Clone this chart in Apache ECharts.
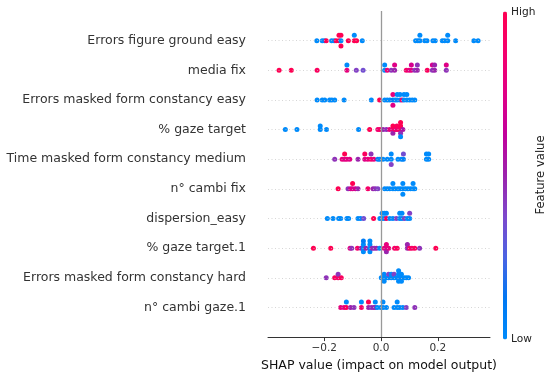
<!DOCTYPE html>
<html>
<head>
<meta charset="utf-8">
<script src="https://cdn.jsdelivr.net/npm/echarts@6/dist/echarts.min.js"></script>
<style>html,body{margin:0;padding:0;background:#fff}#c{width:550px;height:377px}</style>
</head>
<body>
<div id="c"></div>
<script>
// Feature names, top to bottom
const features = [
  "Errors figure ground easy",
  "media fix",
  "Errors masked form constancy easy",
  "% gaze target",
  "Time masked form constancy medium",
  "n° cambi fix",
  "dispersion_easy",
  "% gaze target.1",
  "Errors masked form constancy hard",
  "n° cambi gaze.1"
];
// [SHAP value, normalized feature value (0 = low, 1 = high)]
const figureGroundEasy = [
  [-0.226,0],[-0.207,0],[-0.199,0],[-0.193,1],[-0.174,0],[-0.165,0],[-0.158,1],
  [-0.148,1],[-0.148,1],[-0.141,0],[-0.141,1],[-0.141,1],
  [-0.115,1],[-0.094,1],[-0.094,0],[-0.086,1],[-0.066,0],
  [0.122,0],[0.130,0],[0.137,0],[0.137,0],[0.154,0],[0.162,0],[0.183,0],[0.191,0],
  [0.216,0],[0.224,0],[0.235,0],[0.235,0],[0.263,0],[0.327,0],[0.342,0]
];
const mediaFix = [
  [-0.359,1],[-0.316,1],[-0.225,0.95],[-0.120,0.8],[-0.120,0],[-0.087,0.4],[-0.063,0.35],
  [0.013,0],[0.013,0],[0.022,0.85],[0.036,0.45],[0.048,0.5],[0.048,0.75],
  [0.089,0.9],[0.099,0.8],[0.107,0.75],[0.107,0.7],[0.119,0.45],[0.128,0.5],[0.128,0.45],
  [0.163,0.95],[0.181,0.45],[0.181,0.7],[0.189,0.5],[0.189,0.5],[0.230,0.45],[0.230,0.75]
];
const maskedEasy = [
  [-0.225,0],[-0.207,0],[-0.198,0],[-0.181,0],[-0.173,0],[-0.163,0],[-0.130,0],[-0.034,0],
  [-0.005,1],[0.013,0],[0.022,0],[0.031,0],[0.042,0.1],[0.042,0.8],[0.042,0.75],[0.050,0],
  [0.057,0],[0.057,0],[0.067,0],[0.067,0],[0.074,0.9],[0.081,0],[0.081,0],[0.091,0],[0.091,0],
  [0.101,0],[0.110,0],[0.119,0]
];
const gazeTarget = [
  [-0.337,0],[-0.296,0],[-0.214,0],[-0.214,0],[-0.192,0],[-0.079,0],[-0.040,1],[-0.011,0.85],
  [-0.004,0.9],[0.007,0.5],[0.019,0.45],[0.030,0.8],[0.042,0.85],[0.042,1],[0.042,0.5],
  [0.050,0.9],[0.056,0.8],[0.056,0.95],[0.062,0.9],[0.069,0.9],[0.069,1],[0.069,0.45],
  [0.069,1],[0.069,0],[0.077,0.55]
];
const timeMaskedMedium = [
  [-0.163,0.45],[-0.137,0.8],[-0.128,0.75],[-0.128,1],[-0.120,0.8],[-0.110,0.75],[-0.081,0.5],
  [-0.057,0.75],[-0.057,0.95],[-0.046,0.8],[-0.035,0.9],[-0.035,0.45],[-0.025,0.8],[-0.011,0.1],
  [-0.004,0],[0.007,0],[0.022,0],[0.036,0],[0.036,0],[0.036,0.4],[0.060,0],[0.072,0],
  [0.079,0.05],[0.079,0.35],[0.160,0],[0.160,0],[0.168,0],[0.168,0]
];
const cambiFix = [
  [-0.151,1],[-0.116,0.45],[-0.107,0.7],[-0.100,0.75],[-0.100,1],[-0.090,0.7],[-0.081,0.5],
  [-0.046,0.9],[-0.028,0.5],[-0.020,0.45],[-0.011,0.4],[0.013,0],[0.022,0],[0.031,0],
  [0.042,0],[0.042,0],[0.050,0],[0.060,0],[0.068,0],[0.077,0],[0.077,0],[0.077,0],
  [0.086,0],[0.095,0],[0.104,0],[0.113,0],[0.113,0],[0.119,0]
];
const dispersionEasy = [
  [-0.189,0],[-0.169,0],[-0.149,0],[-0.142,0],[-0.120,0],[-0.114,0],[-0.081,0],[-0.072,0],
  [-0.061,0.35],[-0.026,1],[-0.004,0],[0.004,0],[0.004,0],[0.012,0],[0.012,0],[0.019,0.95],
  [0.019,0],[0.031,0],[0.042,0],[0.054,0.4],[0.066,0],[0.066,0],[0.074,0],[0.074,0],
  [0.083,0.4],[0.093,0],[0.101,0],[0.101,0.4]
];
const gazeTarget1 = [
  [-0.238,1],[-0.177,1],[-0.109,0.75],[-0.103,0.45],[-0.083,0.9],[-0.070,0.5],
  [-0.062,0],[-0.062,0],[-0.062,0],[-0.062,0.1],[-0.053,0.5],
  [-0.039,0],[-0.039,0],[-0.039,0],[-0.039,0],[-0.031,0.5],[-0.024,0.45],[-0.016,0.5],
  [-0.005,0],[0.011,0.8],[0.019,0.75],[0.019,0.8],[0.019,0.5],[0.027,0.8],[0.048,0.9],
  [0.057,0.95],[0.093,0.5],[0.093,0.5],[0.101,0.95],[0.109,0.9],[0.119,0.95],[0.136,0.45],[0.193,1]
];
const maskedHard = [
  [-0.193,0.45],[-0.163,0.95],[-0.151,0.9],[-0.151,0.45],[-0.140,0.95],
  [0.001,0],[0.011,0],[0.011,0],[0.011,0],[0.019,0],[0.027,0],[0.027,0.4],[0.036,0],[0.036,0],
  [0.046,0],[0.046,0.4],[0.054,0],[0.062,0],[0.062,0],[0.062,0],[0.062,0],
  [0.072,0],[0.072,0],[0.072,0],[0.081,0],[0.089,0],[0.097,0]
];
const cambiGaze1 = [
  [-0.142,0.8],[-0.130,0.75],[-0.122,0.95],[-0.122,0],[-0.107,0.5],[-0.095,0.45],
  [-0.069,0.9],[-0.069,0],[-0.044,0.5],[-0.044,1],[-0.034,0.45],[-0.025,0.5],
  [-0.020,0.45],[-0.020,0],[-0.013,0],[-0.001,0],[0.007,0],[0.007,0],[0.019,0],
  [0.046,0],[0.057,0],[0.057,0],[0.066,0],[0.077,0],[0.089,0.4],[0.119,0.45]
];
const rows = [figureGroundEasy, mediaFix, maskedEasy, gazeTarget, timeMaskedMedium,
              cambiFix, dispersionEasy, gazeTarget1, maskedHard, cambiGaze1];
const xTicks = [-0.2, 0.0, 0.2];
const colorStops = ['#008bfb','#0078f3','#4b63e3','#7d49cc','#9b23ad','#c2009c','#e00086','#f5006d','#ff0052'];

// SHAP-style beeswarm layering (deterministic)
function swarm(vals) {
  const N = vals.length;
  const mn = Math.min(...vals), mx = Math.max(...vals);
  const quant = vals.map(v => Math.round(100 * (v - mn) / (mx - mn + 1e-8)));
  const inds = [...Array(N).keys()].sort((a, b) => quant[a] - quant[b] || a - b);
  const ys = new Array(N).fill(0);
  let layer = 0, last = null;
  for (const i of inds) {
    if (quant[i] !== last) layer = 0;
    ys[i] = Math.ceil(layer / 2) * ((layer % 2) * 2 - 1);
    layer++; last = quant[i];
  }
  const m = Math.max(...ys) + 1;
  return ys.map(y => y * 0.9 * 0.4 / m);
}

const n = features.length;
const points = [];
rows.forEach((arr, r) => {
  const pos = n - 1 - r;
  const offs = swarm(arr.map(p => p[0]));
  arr.forEach((p, i) => points.push([p[0], pos + offs[i], p[1]]));
});

const rowLines = features.map((f, r) => ({ yAxis: n - 1 - r }));
const font = 'DejaVu Sans';

const chart = echarts.init(document.getElementById('c'), null, { renderer: 'canvas' });
chart.setOption({
  animation: false,
  textStyle: { fontFamily: font },
  grid: { left: 268, right: 60, top: 11, bottom: 39, containLabel: false },
  xAxis: {
    type: 'value', min: -0.398, max: 0.384,
    axisLine: { onZero: false, lineStyle: { color: '#333', width: 1 } },
    axisTick: { show: true, length: 4, customValues: xTicks, lineStyle: { color: '#333' } },
    axisLabel: { customValues: xTicks, fontSize: 10.5, color: '#333', margin: 6,
      formatter: v => (v < 0 ? '\u2212' : '') + Math.abs(v).toFixed(1) },
    splitLine: { show: false },
    name: 'SHAP value (impact on model output)', nameLocation: 'middle', nameGap: 21,
    nameTextStyle: { fontSize: 12.5, color: '#111', fontFamily: font }
  },
  yAxis: {
    type: 'value', min: -1, max: n, interval: 1,
    axisLine: { show: false, onZero: false }, axisTick: { show: false }, splitLine: { show: false },
    axisLabel: { fontSize: 12.5, color: '#333', margin: 22,
      formatter: v => (v >= 0 && v <= n - 1) ? features[n - 1 - v] : '' }
  },
  visualMap: {
    type: 'continuous', min: 0, max: 1, dimension: 2, seriesIndex: 0,
    orient: 'vertical', left: 503, top: 11.5, itemWidth: 4, itemHeight: 328, padding: 0,
    calculable: false, hoverLink: false,
    inRange: { color: colorStops }
  },
  graphic: [
    { type: 'text', x: 511, y: 12, style: { text: 'High', fontSize: 10.6, fontFamily: font, fill: '#222', align: 'left', verticalAlign: 'middle' } },
    { type: 'text', x: 511, y: 339, style: { text: 'Low', fontSize: 10.6, fontFamily: font, fill: '#222', align: 'left', verticalAlign: 'middle' } },
    { type: 'text', x: 541, y: 175, rotation: Math.PI / 2, style: { text: 'Feature value', fontSize: 11.6, fontFamily: font, fill: '#222', align: 'center', verticalAlign: 'middle' } }
  ],
  series: [
    {
      type: 'scatter', z: 3, symbol: 'circle', symbolSize: 5,
      itemStyle: { opacity: 1 },
      data: points
    },
    {
      type: 'scatter', z: 1, data: [],
      markLine: {
        silent: true, symbol: ['none', 'none'], label: { show: false }, animation: false,
        data: [
          ...rowLines.map(d => ({ ...d, lineStyle: { color: '#c4c4c4', width: 0.7, type: [1, 2.5] } })),
          { xAxis: 0, lineStyle: { color: '#999', width: 1.3, type: 'solid' } }
        ]
      }
    }
  ]
});
</script>
</body>
</html>
